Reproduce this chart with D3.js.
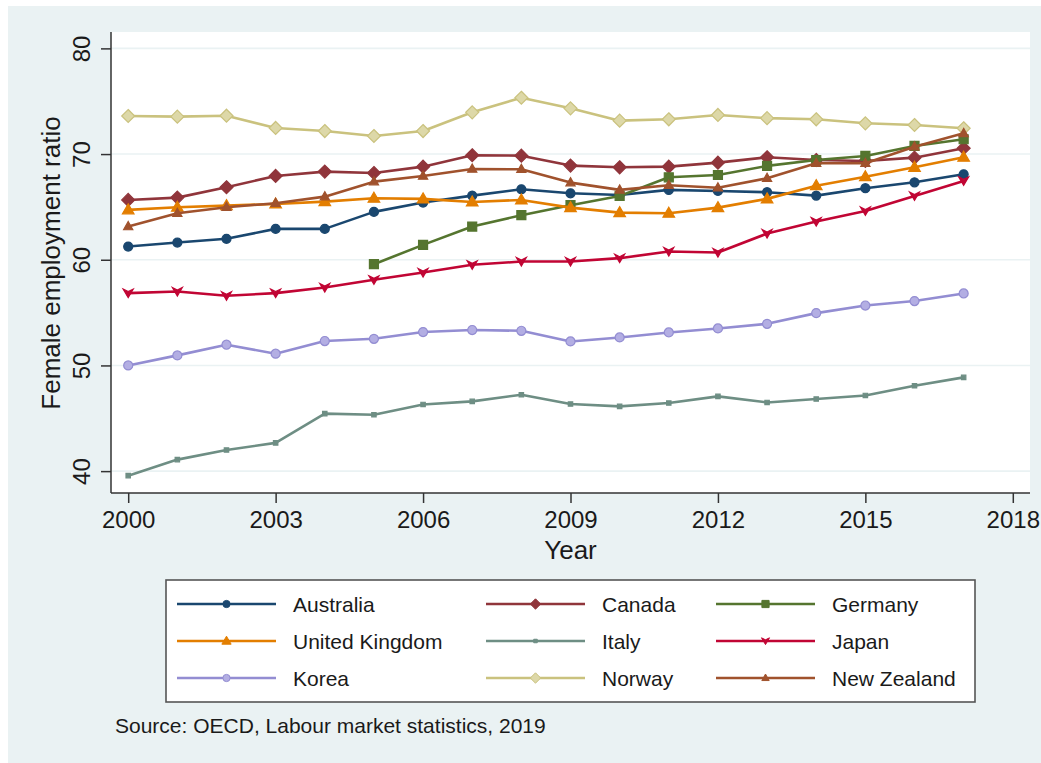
<!DOCTYPE html>
<html>
<head>
<meta charset="utf-8">
<script src="https://cdn.jsdelivr.net/npm/d3@7"></script>
<style>
  body { margin: 0; background: #fff; }
  svg text { font-family: "Liberation Sans", Arial, Helvetica, sans-serif; fill: #1a1a1a; }
</style>
</head>
<body>
<div id="graph-container"></div>
<script>
const years = d3.range(2000, 2018);
const xTicks = [2000, 2003, 2006, 2009, 2012, 2015, 2018];
const yTicks = [40, 50, 60, 70, 80];

const australia = [61.25, 61.63, 61.98, 62.92, 62.92, 64.53, 65.41, 66.07, 66.67, 66.29, 66.13, 66.61, 66.51, 66.39, 66.07, 66.77, 67.33, 68.09];
const canada = [65.66, 65.88, 66.86, 67.93, 68.34, 68.21, 68.81, 69.89, 69.85, 68.91, 68.75, 68.81, 69.19, 69.70, 69.44, 69.35, 69.66, 70.55];
const germany = [null, null, null, null, null, 59.58, 61.41, 63.14, 64.22, 65.16, 66.04, 67.80, 68.02, 68.88, 69.44, 69.82, 70.77, 71.40];
const unitedKingdom = [64.72, 64.97, 65.12, 65.28, 65.50, 65.82, 65.76, 65.47, 65.66, 64.93, 64.46, 64.40, 64.93, 65.76, 67.01, 67.86, 68.75, 69.70];
const italy = [39.57, 41.09, 42.00, 42.67, 45.44, 45.34, 46.31, 46.60, 47.23, 46.35, 46.13, 46.44, 47.07, 46.50, 46.82, 47.16, 48.08, 48.87];
const japan = [56.84, 57.00, 56.59, 56.84, 57.37, 58.10, 58.79, 59.52, 59.83, 59.83, 60.15, 60.78, 60.68, 62.48, 63.61, 64.62, 66.04, 67.46];
const korea = [50.00, 50.95, 51.96, 51.11, 52.31, 52.52, 53.16, 53.35, 53.28, 52.27, 52.65, 53.12, 53.50, 53.94, 54.95, 55.67, 56.09, 56.81];
const norway = [73.60, 73.54, 73.63, 72.47, 72.18, 71.71, 72.18, 73.95, 75.33, 74.33, 73.16, 73.29, 73.70, 73.40, 73.29, 72.91, 72.75, 72.44];
const newZealand = [63.14, 64.40, 64.97, 65.35, 65.97, 67.39, 67.93, 68.59, 68.56, 67.30, 66.61, 67.05, 66.82, 67.71, 69.13, 69.13, 70.70, 71.96];

// legend order (3 columns, row by row)
const countries = ["Australia", "Canada", "Germany", "United Kingdom", "Italy", "Japan", "Korea", "Norway", "New Zealand"];
const seriesValues = [australia, canada, germany, unitedKingdom, italy, japan, korea, norway, newZealand];

const colors = ["#1a476f", "#90353b", "#55752f", "#e37e00", "#6e8e84", "#c10534", "#938dd2", "#cac27e", "#a0522d"];
const fills = ["#1a476f", "#90353b", "#55752f", "#e37e00", "#6e8e84", "#c10534", "#b3aee3", "#ddd8a8", "#a0522d"];
const markers = ["circle", "diamond", "square", "triangle", "smallsquare", "vee", "circle", "diamond", "smalltriangle"];

const width = 1041, height = 763;
const plot = { left: 111, right: 1030, top: 32, bottom: 493 };

const svg = d3.select("#graph-container")
    .append("svg")
    .attr("width", width)
    .attr("height", height);

svg.append("rect")
    .attr("x", 8).attr("y", 6)
    .attr("width", width - 8).attr("height", height - 6)
    .attr("fill", "#eaf2f3");

svg.append("rect")
    .attr("x", plot.left).attr("y", plot.top)
    .attr("width", plot.right - plot.left).attr("height", plot.bottom - plot.top)
    .attr("fill", "#fff");

const xScale = d3.scaleLinear()
    .domain([1999.65, 2018.35])
    .range([plot.left, plot.right]);

const yScale = d3.scaleLinear()
    .domain([37.93, 81.55])
    .range([plot.bottom, plot.top]);

// gridlines
svg.append("g")
    .selectAll("line")
    .data(yTicks)
    .join("line")
    .attr("x1", plot.left).attr("x2", plot.right)
    .attr("y1", d => yScale(d)).attr("y2", d => yScale(d))
    .attr("stroke", "#eaf2f3")
    .attr("stroke-width", 1.6);

function markerPath(type, s) {
    switch (type) {
        case "circle": return d3.symbol(d3.symbolCircle, 64 * s * s)();
        case "diamond": return `M0,${-6.5 * s}L${6.5 * s},0L0,${6.5 * s}L${-6.5 * s},0Z`;
        case "square": return `M${-4.5 * s},${-4.5 * s}h${9 * s}v${9 * s}h${-9 * s}Z`;
        case "triangle": return `M0,${-6 * s}L${5.8 * s},${4 * s}L${-5.8 * s},${4 * s}Z`;
        case "smallsquare": return `M${-2.2 * s},${-2.2 * s}h${4.4 * s}v${4.4 * s}h${-4.4 * s}Z`;
        case "vee": return `M${-5 * s},${-4 * s}L0,${-1.5 * s}L${5 * s},${-4 * s}L0,${4.5 * s}Z`;
        case "smalltriangle": return `M0,${-5 * s}L${4.6 * s},${3.2 * s}L${-4.6 * s},${3.2 * s}Z`;
    }
}

const line = d3.line()
    .defined(d => d.y !== null)
    .x(d => xScale(d.x))
    .y(d => yScale(d.y));

const seriesG = svg.append("g");
countries.forEach((name, i) => {
    const data = years.map((yr, k) => ({ x: yr, y: seriesValues[i][k] }));
    const g = seriesG.append("g");
    g.append("path")
        .datum(data)
        .attr("d", line)
        .attr("fill", "none")
        .attr("stroke", colors[i])
        .attr("stroke-width", 2.6)
        .attr("stroke-linejoin", "round");
    g.selectAll("path.mk")
        .data(data.filter(d => d.y !== null))
        .join("path")
        .attr("class", "mk")
        .attr("transform", d => `translate(${xScale(d.x)},${yScale(d.y)})`)
        .attr("d", markerPath(markers[i], 1))
        .attr("fill", fills[i])
        .attr("stroke", colors[i])
        .attr("stroke-width", 1.2);
});

// axes
const xAxis = d3.axisBottom(xScale).tickValues(xTicks).tickFormat(d3.format("d")).tickSize(10).tickSizeOuter(0).tickPadding(8);
const yAxis = d3.axisLeft(yScale).tickValues(yTicks).tickSize(10).tickSizeOuter(0);

const gx = svg.append("g")
    .attr("transform", `translate(0, ${plot.bottom})`)
    .call(xAxis);
gx.select(".domain").attr("d", `M${plot.left},0H${plot.right}`);
gx.selectAll("text").attr("font-size", 24).attr("font-family", "Liberation Sans, Arial, sans-serif").attr("fill", "#1a1a1a");

const gy = svg.append("g")
    .attr("transform", `translate(${plot.left}, 0)`)
    .call(yAxis);
gy.select(".domain").attr("d", `M0,${plot.top}V${plot.bottom}`);
gy.selectAll("text")
    .attr("x", null).attr("dy", null)
    .attr("text-anchor", "middle")
    .attr("transform", "translate(-21,0) rotate(-90)")
    .attr("font-size", 24)
    .attr("font-family", "Liberation Sans, Arial, sans-serif")
    .attr("fill", "#1a1a1a");

svg.selectAll(".domain, .tick line").attr("stroke", "#333").attr("stroke-width", 1.5);

svg.append("text")
    .attr("x", xScale(2009)).attr("y", 559)
    .attr("text-anchor", "middle")
    .attr("font-size", 26)
    .text("Year");

svg.append("text")
    .attr("transform", `translate(60, 263) rotate(-90)`)
    .attr("text-anchor", "middle")
    .attr("font-size", 26)
    .text("Female employment ratio");

// legend
const legend = svg.append("g");
legend.append("rect")
    .attr("x", 166).attr("y", 580)
    .attr("width", 975 - 166).attr("height", 702 - 580)
    .attr("fill", "#fff")
    .attr("stroke", "#555")
    .attr("stroke-width", 1.6);

const colX = [177, 486, 716];
const rowY = [604, 641, 678];
countries.forEach((name, i) => {
    const cx = colX[i % 3], cy = rowY[Math.floor(i / 3)];
    const item = legend.append("g").attr("transform", `translate(${cx},${cy})`);
    item.append("line")
        .attr("x1", 0).attr("x2", 99)
        .attr("stroke", colors[i])
        .attr("stroke-width", 2.6);
    item.append("path")
        .attr("transform", "translate(49.5,0)")
        .attr("d", markerPath(markers[i], 0.8))
        .attr("fill", fills[i])
        .attr("stroke", colors[i])
        .attr("stroke-width", 1);
    item.append("text")
        .attr("x", 116).attr("y", 7.5)
        .attr("font-size", 21)
        .text(name);
});

svg.append("text")
    .attr("x", 115).attr("y", 733)
    .attr("font-size", 21)
    .text("Source: OECD, Labour market statistics, 2019");
</script>
</body>
</html>
